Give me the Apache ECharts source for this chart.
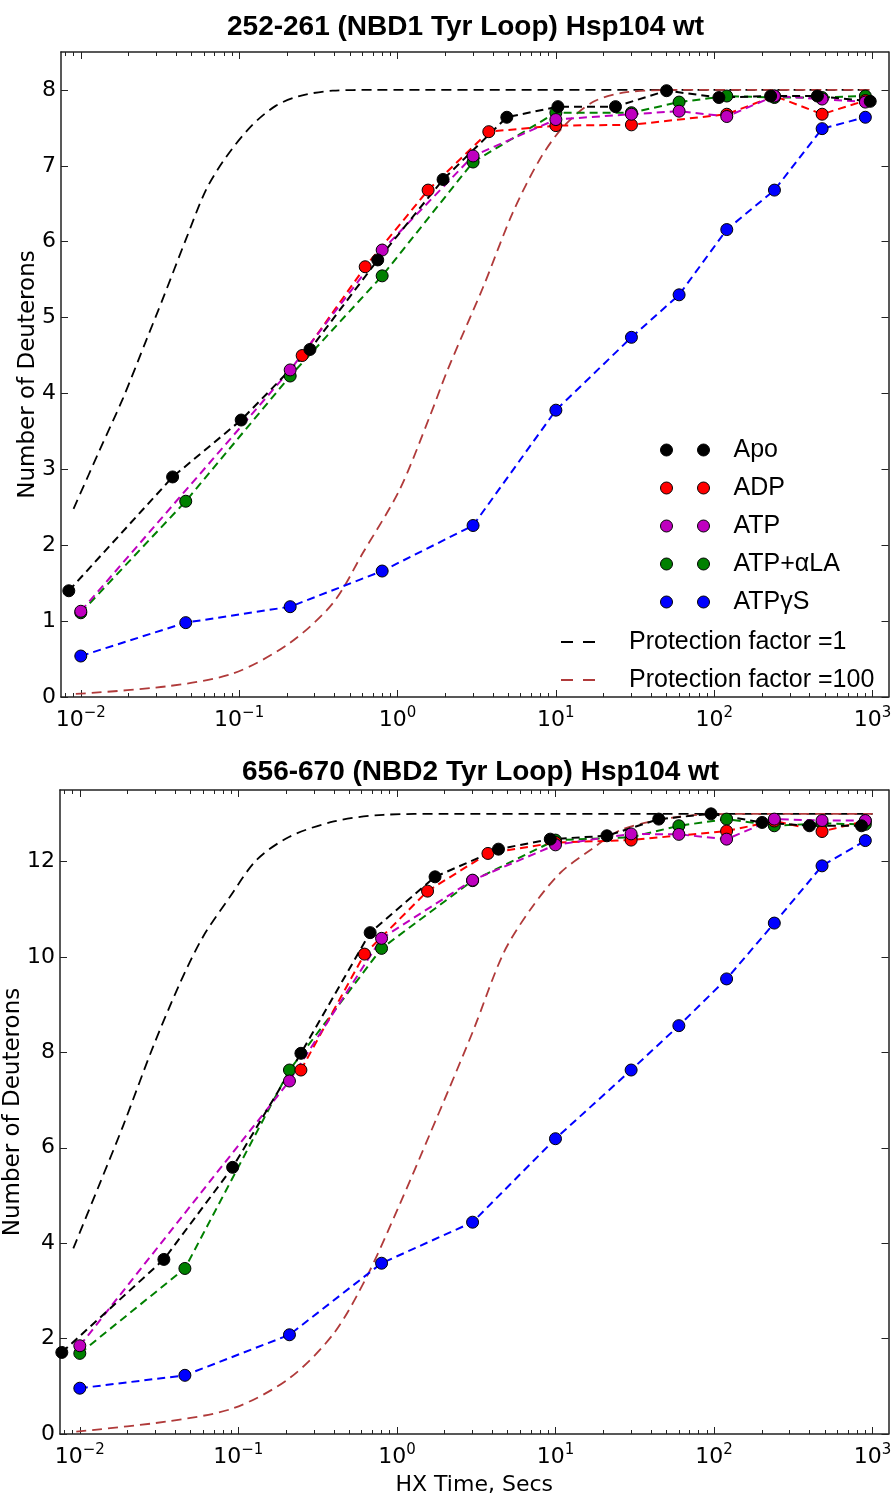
<!DOCTYPE html>
<html>
<head>
<meta charset="utf-8">
<script src="https://cdn.jsdelivr.net/npm/echarts@6/dist/echarts.min.js"></script>
<style>
html, body { margin: 0; padding: 0; background: #fff; }
#chart { width: 893px; height: 1498px; }
</style>
</head>
<body>
<div id="chart"></div>
<script>
"use strict";
// 数据：时间 (s) 与 氘数
// NBD1 (252-261)
var nbd1Apo = [[0.0084,1.40],[0.038,2.90],[0.103,3.65],[0.28,4.58],[0.75,5.76],[1.94,6.82],[4.9,7.64],[10.3,7.78],[23.8,7.78],[50,7.99],[107,7.90],[227,7.92],[448,7.92],[966,7.85]];
var nbd1Adp = [[0.25,4.50],[0.625,5.67],[1.56,6.68],[3.77,7.45],[10,7.53],[30,7.54],[120,7.68],[240,7.92],[480,7.68],[900,7.86]];
var nbd1Atp = [[0.01,1.13],[0.21,4.31],[0.8,5.89],[3,7.13],[10,7.61],[30,7.68],[60,7.72],[120,7.65],[240,7.92],[480,7.88],[900,7.84]];
var nbd1AtpLa = [[0.01,1.11],[0.046,2.58],[0.21,4.23],[0.8,5.55],[3,7.05],[10,7.70],[30,7.70],[60,7.84],[120,7.92],[240,7.90],[480,7.90],[900,7.92]];
var nbd1AtpGs = [[0.01,0.54],[0.046,0.98],[0.21,1.19],[0.8,1.66],[3,2.26],[10,3.78],[30,4.74],[60,5.30],[120,6.16],[240,6.68],[480,7.49],[900,7.64]];
var nbd1Pf1 = [[0.009,2.48],[0.0132,3.26],[0.0185,3.94],[0.026,4.71],[0.033,5.25],[0.0465,6.05],[0.062,6.69],[0.083,7.12],[0.12,7.53],[0.17,7.79],[0.24,7.92],[0.39,7.99],[0.7,8],[10,8],[100,8],[1000,8]];
var nbd1Pf100 = [[0.0093,0.04],[0.0347,0.14],[0.0916,0.31],[0.208,0.71],[0.392,1.24],[0.605,1.90],[1.03,2.73],[1.6,3.70],[2.08,4.32],[3.47,5.40],[5.36,6.39],[7.94,7.09],[11.1,7.51],[17.1,7.84],[27.9,7.97],[63,8.0],[1000,8.0]];
// NBD2 (656-670)
var nbd2Apo = [[0.0077,1.71],[0.0339,3.66],[0.092,5.59],[0.248,7.98],[0.678,10.51],[1.74,11.68],[4.37,12.26],[9.27,12.47],[21.1,12.54],[44.8,12.89],[95.7,13.0],[201,12.82],[400,12.75],[851,12.75]];
var nbd2Adp = [[0.248,7.63],[0.624,10.06],[1.56,11.38],[3.75,12.17],[10,12.40],[30,12.45],[120,12.64],[240,12.85],[480,12.63],[900,12.85]];
var nbd2Atp = [[0.01,1.85],[0.21,7.40],[0.8,10.39],[3,11.61],[10,12.35],[30,12.58],[60,12.57],[120,12.47],[240,12.89],[480,12.86],[900,12.86]];
var nbd2AtpLa = [[0.01,1.69],[0.046,3.47],[0.21,7.63],[0.8,10.18],[3,11.6],[10,12.45],[30,12.51],[60,12.75],[120,12.89],[240,12.75],[480,12.80],[900,12.78]];
var nbd2AtpGs = [[0.01,0.96],[0.046,1.23],[0.21,2.08],[0.8,3.58],[3,4.44],[10,6.19],[30,7.63],[60,8.56],[120,9.54],[240,10.71],[480,11.91],[900,12.44]];
var nbd2Pf1 = [[0.0091,3.89],[0.0134,5.26],[0.0187,6.45],[0.029,8.12],[0.0428,9.45],[0.06,10.43],[0.0885,11.26],[0.13,12.03],[0.21,12.52],[0.4,12.84],[0.82,12.98],[2,13],[10,13],[100,13],[1000,13]];
var nbd2Pf100 = [[0.0095,0.05],[0.035,0.26],[0.093,0.54],[0.21,1.17],[0.4,2.11],[0.646,3.30],[1.05,4.84],[1.62,6.30],[2.11,7.20],[3.04,8.47],[4.7,10.08],[6.93,10.99],[10.7,11.76],[16.6,12.24],[25.7,12.66],[50.6,12.90],[90,12.99],[200,13],[1000,13]];

var titles = ['252-261 (NBD1 Tyr Loop) Hsp104 wt', '656-670 (NBD2 Tyr Loop) Hsp104 wt'];
var seriesNames = ['Apo', 'ADP', 'ATP', 'ATP+\u03b1LA', 'ATP\u03b3S'];
var pfNames = ['Protection factor =1', 'Protection factor =100'];
var xMajor = [0.01, 0.1, 1, 10, 100, 1000];
var yTicks1 = [0, 1, 2, 3, 4, 5, 6, 7, 8];
var yTicks2 = [0, 2, 4, 6, 8, 10, 12];

var X_MIN = 0.0075, X_MAX = 1260;
var colors = { Apo: '#000000', ADP: '#ff0000', ATP: '#bf00bf', LA: '#008000', GS: '#0000ff', pf1: '#000000', pf100: '#b03a3a' };

// 次刻度 2..9 x 10^k
var xMinor = [];
for (var k = -3; k <= 2; k++) {
    for (var m = 2; m <= 9; m++) {
        var v = Number((m * Math.pow(10, k)).toPrecision(3));
        if (v >= X_MIN && v <= X_MAX) xMinor.push(v);
    }
}

var tickFont = 'DejaVu Sans';

function powLabel(v) {
    var e = Math.round(Math.log10(v));
    return '{b|10}{s|' + (e < 0 ? '\u2212' + (-e) : e) + '}';
}

function xAxesFor(gi, withName) {
    var line = { show: true, onZero: false, lineStyle: { color: '#222', width: 1.5 } };
    var base = { gridIndex: gi, type: 'log', logBase: 10, min: X_MIN, max: X_MAX,
        splitLine: { show: false }, minorTick: { show: false }, silent: true };
    var main = Object.assign({}, base, {
        position: 'bottom', axisLine: line,
        axisTick: { inside: true, length: 7, customValues: xMajor, lineStyle: { color: '#222', width: 1 } },
        axisLabel: { show: true, customValues: xMajor, margin: 9, formatter: powLabel, color: '#000',
            rich: {
                b: { fontFamily: tickFont, fontSize: 22, lineHeight: 28, color: '#000' },
                s: { fontFamily: tickFont, fontSize: 15, lineHeight: 15, verticalAlign: 'top', color: '#000' }
            } }
    });
    if (withName) {
        main.name = 'HX Time, Secs';
        main.nameLocation = 'middle';
        main.nameGap = 40;
        main.nameMoveOverlap = false;
        main.nameTextStyle = { fontFamily: tickFont, fontSize: 22, color: '#000' };
    }
    var hidden = { show: false, onZero: false };
    return [
        main,
        Object.assign({}, base, { position: 'bottom', axisLine: hidden, axisLabel: { show: false },
            axisTick: { inside: true, length: 4, customValues: xMinor, lineStyle: { color: '#222', width: 1 } } }),
        Object.assign({}, base, { position: 'top', axisLine: line, axisLabel: { show: false },
            axisTick: { inside: true, length: 7, customValues: xMajor, lineStyle: { color: '#222', width: 1 } } }),
        Object.assign({}, base, { position: 'top', axisLine: hidden, axisLabel: { show: false },
            axisTick: { inside: true, length: 4, customValues: xMinor, lineStyle: { color: '#222', width: 1 } } })
    ];
}

function yAxesFor(gi, max, ticks, gap) {
    var line = { show: true, onZero: false, lineStyle: { color: '#222', width: 1.5 } };
    var base = { gridIndex: gi, type: 'value', min: 0, max: max, splitLine: { show: false }, silent: true };
    return [
        Object.assign({}, base, {
            position: 'left', axisLine: line,
            axisTick: { inside: true, length: 7, customValues: ticks, lineStyle: { color: '#222', width: 1 } },
            axisLabel: { customValues: ticks, margin: 5, fontFamily: tickFont, fontSize: 22, color: '#000' },
            name: 'Number of Deuterons', nameLocation: 'middle', nameGap: gap, nameMoveOverlap: false,
            nameTextStyle: { fontFamily: tickFont, fontSize: 23, color: '#000' }
        }),
        Object.assign({}, base, {
            position: 'right', axisLine: line, axisLabel: { show: false },
            axisTick: { inside: true, length: 7, customValues: ticks, lineStyle: { color: '#222', width: 1 } }
        })
    ];
}

function dataLine(name, pts, color, gi) {
    return {
        name: name, type: 'line', xAxisIndex: gi * 4, yAxisIndex: gi * 2, data: pts,
        symbol: 'circle', symbolSize: 12, color: color,
        lineStyle: { color: color, width: 2, type: [8, 5] },
        itemStyle: { color: color, borderColor: '#000', borderWidth: 1 },
        emphasis: { disabled: true }, z: 3
    };
}

function pfLine(name, pts, color, gi) {
    return {
        name: name, type: 'line', xAxisIndex: gi * 4, yAxisIndex: gi * 2, data: pts,
        symbol: 'none', smooth: 0.3, color: color,
        lineStyle: { color: color, width: 1.8, type: [10, 6] },
        emphasis: { disabled: true }, z: 2
    };
}

function seriesFor(gi, apo, adp, atp, la, gs, pf1, pf100) {
    return [
        pfLine(pfNames[0], pf1, colors.pf1, gi),
        pfLine(pfNames[1], pf100, colors.pf100, gi),
        dataLine(seriesNames[3], la, colors.LA, gi),
        dataLine(seriesNames[1], adp, colors.ADP, gi),
        dataLine(seriesNames[2], atp, colors.ATP, gi),
        dataLine(seriesNames[0], apo, colors.Apo, gi),
        dataLine(seriesNames[4], gs, colors.GS, gi)
    ];
}

var myChart = echarts.init(document.getElementById('chart'), null, { renderer: 'canvas' });

var titleStyle = { fontFamily: 'Liberation Sans', fontWeight: 'bold', fontSize: 28, color: '#000' };

var option = {
    animation: false,
    backgroundColor: '#fff',
    title: [
        { text: titles[0], left: 227, top: 13, padding: 0, textStyle: titleStyle },
        { text: titles[1], left: 242, top: 758, padding: 0, textStyle: titleStyle }
    ],
    grid: [
        { left: 61, right: 4.5, top: 52, height: 645, outerBoundsMode: 'none' },
        { left: 60, right: 4.5, top: 790, height: 644, outerBoundsMode: 'none' }
    ],
    xAxis: xAxesFor(0, false).concat(xAxesFor(1, true)),
    yAxis: yAxesFor(0, 8.5, yTicks1, 21).concat(yAxesFor(1, 13.5, yTicks2, 35)),
    legend: [
        {
            data: seriesNames, orient: 'vertical', left: 660, top: 437.5, padding: 0,
            itemGap: 13, itemWidth: 49, itemHeight: 12, selectedMode: false,
            icon: 'path://M0,6A6,6,0,1,0,12,6A6,6,0,1,0,0,6ZM37,6A6,6,0,1,0,49,6A6,6,0,1,0,37,6Z',
            itemStyle: { borderColor: '#000', borderWidth: 1 },
            textStyle: { fontFamily: 'Liberation Sans', fontSize: 25, lineHeight: 25, color: '#000', padding: [0, 0, 0, 19] }
        },
        {
            data: pfNames, orient: 'vertical', left: 560, top: 629.5, padding: 0,
            itemGap: 13, itemWidth: 34, itemHeight: 12, selectedMode: false,
            itemStyle: { opacity: 0 },
            lineStyle: { type: [12, 10], width: 2 },
            textStyle: { fontFamily: 'Liberation Sans', fontSize: 25, lineHeight: 25, color: '#000', padding: [0, 0, 0, 29] }
        }
    ],
    series: seriesFor(0, nbd1Apo, nbd1Adp, nbd1Atp, nbd1AtpLa, nbd1AtpGs, nbd1Pf1, nbd1Pf100)
        .concat(seriesFor(1, nbd2Apo, nbd2Adp, nbd2Atp, nbd2AtpLa, nbd2AtpGs, nbd2Pf1, nbd2Pf100))
};

myChart.setOption(option);

window.onresize = function () {
    myChart.resize();
};
</script>
</body>
</html>
